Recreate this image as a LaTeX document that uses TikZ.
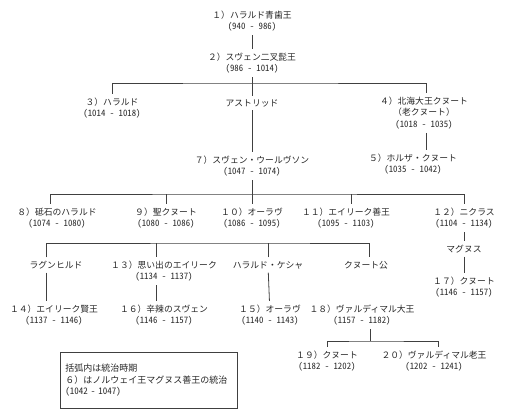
\documentclass[tikz,border=0pt]{standalone}
\usepackage{fontspec}
\setmainfont{Noto Sans CJK JP}
\newfontfamily\datefont[RawFeature=+hwid]{Noto Sans CJK JP}
\usetikzlibrary{positioning,calc}
\colorlet{LineGray}{black!75}
\colorlet{InkGray}{black!85}
\newcommand{\yrs}[1]{{\datefont(#1)}}

\begin{document}
\begin{tikzpicture}[x=1pt,y=-1pt,
      king/.style={align=center,inner sep=3.5pt,font=\fontsize{8.8}{11.5}\selectfont,text=InkGray},
      link/.style={line width=0.8pt,LineGray}
    ]
    \useasboundingbox (0,0) rectangle (510,411);
    % generations
    \node[king] (k1) at (252,21) {１）ハラルド青歯王\\\yrs{940 - 986}};
    \node[king] (k2) at (252,63) {２）スヴェン二叉髭王\\\yrs{986 - 1014}};
    \node[king] (k3) at (112,108) {３）ハラルド\\\yrs{1014 - 1018}};
    \node[king] (astrid) at (252,103) {アストリッド};
    \node[king] (k4) at (424,113) {４）北海大王クヌート\\（老クヌート）\\\yrs{1018 - 1035}};
    \node[king] (k5) at (413,164) {５）ホルザ・クヌート\\\yrs{1035 - 1042}};
    \node[king] (k7) at (252,166) {７）スヴェン・ウールヴソン\\\yrs{1047 - 1074}};
    \node[king] (k8) at (57,218) {８）砥石のハラルド\\\yrs{1074 - 1080}};
    \node[king] (k9) at (166,218) {９）聖クヌート\\\yrs{1080 - 1086}};
    \node[king] (k10) at (252,218) {１０）オーラヴ\\\yrs{1086 - 1095}};
    \node[king] (k11) at (346,218) {１１）エイリーク善王\\\yrs{1095 - 1103}};
    \node[king] (k12) at (464,218) {１２）ニクラス\\\yrs{1104 - 1134}};
    \node[king] (magnus) at (464,249) {マグヌス};
    \node[king] (k17) at (464,287) {１７）クヌート\\\yrs{1146 - 1157}};
    \node[king] (ragnhild) at (56,265) {ラグンヒルド};
    \node[king] (k13) at (164,271) {１３）思い出のエイリーク\\\yrs{1134 - 1137}};
    \node[king] (kesja) at (268,265) {ハラルド・ケシャ};
    \node[king] (lavard) at (366,265) {クヌート公};
    \node[king] (k14) at (54,315) {１４）エイリーク賢王\\\yrs{1137 - 1146}};
    \node[king] (k16) at (164,315) {１６）辛辣のスヴェン\\\yrs{1146 - 1157}};
    \node[king] (k15) at (270,315) {１５）オーラヴ\\\yrs{1140 - 1143}};
    \node[king] (k18) at (362,315) {１８）ヴァルディマル大王\\\yrs{1157 - 1182}};
    \node[king] (k19) at (327,361) {１９）クヌート\\\yrs{1182 - 1202}};
    \node[king] (k20) at (434,361) {２０）ヴァルディマル老王\\\yrs{1202 - 1241}};
    % junctions
    \coordinate (jA) at (252,83);
    \coordinate (jB) at (252,194);
    \coordinate (jC) at (252,243);
    \coordinate (jD) at (370,341);
    % drop columns
    \coordinate (c4) at (426,0);
    \coordinate (c8) at (50,0);
    \coordinate (c11) at (351,0);
    \coordinate (c12) at (464,0);
    \coordinate (cR) at (46,0);
    \coordinate (c13) at (156,0);
    \coordinate (cL) at (369,0);
    \coordinate (c20) at (438,0);
    % lines
    \draw[link] (k1) -- (k2);
    \draw[link] (k2) -- (astrid);
    \draw[link] (k3.north) |- (jA) -| (k4.north -| c4);
    \draw[link] (astrid) -- (k7);
    \draw[link] (k4.south -| c4) -- (k5.north -| c4);
    \draw[link] (k7) -- (k10);
    \draw[link] (k8.north -| c8) |- (jB) -| (k12.north -| c12);
    \draw[link] (k9.north) -- (k9.north |- jB);
    \draw[link] (k11.north -| c11) -- (jB -| c11);
    \draw[link] (k12) -- (magnus);
    \draw[link] (magnus) -- (k17);
    \draw[link] (ragnhild.north -| cR) |- (jC) -| (lavard.north -| cL);
    \draw[link] (k13.north -| c13) -- (jC -| c13);
    \draw[link] (kesja.north) -- (kesja.north |- jC);
    \draw[link] (ragnhild.south -| cR) -- (k14.north -| cR);
    \draw[link] (k13.south -| c13) -- (k16.north -| c13);
    \draw[link] (kesja) -- (k15);
    \draw[link] (k18.south -| jD) -- (jD);
    \draw[link] (k19.north) |- (jD) -| (k20.north -| c20);
    % legend
    \node[draw=LineGray,line width=0.8pt,anchor=north west,text width=167pt,inner xsep=5pt,
          minimum height=56pt,align=left,font=\fontsize{9}{11.5}\selectfont,text=InkGray] (note) at (60,352)
      {括弧内は統治時期\\６）はノルウェイ王マグヌス善王の統治\\\yrs{1042 - 1047}};
  \end{tikzpicture}
\end{document}
